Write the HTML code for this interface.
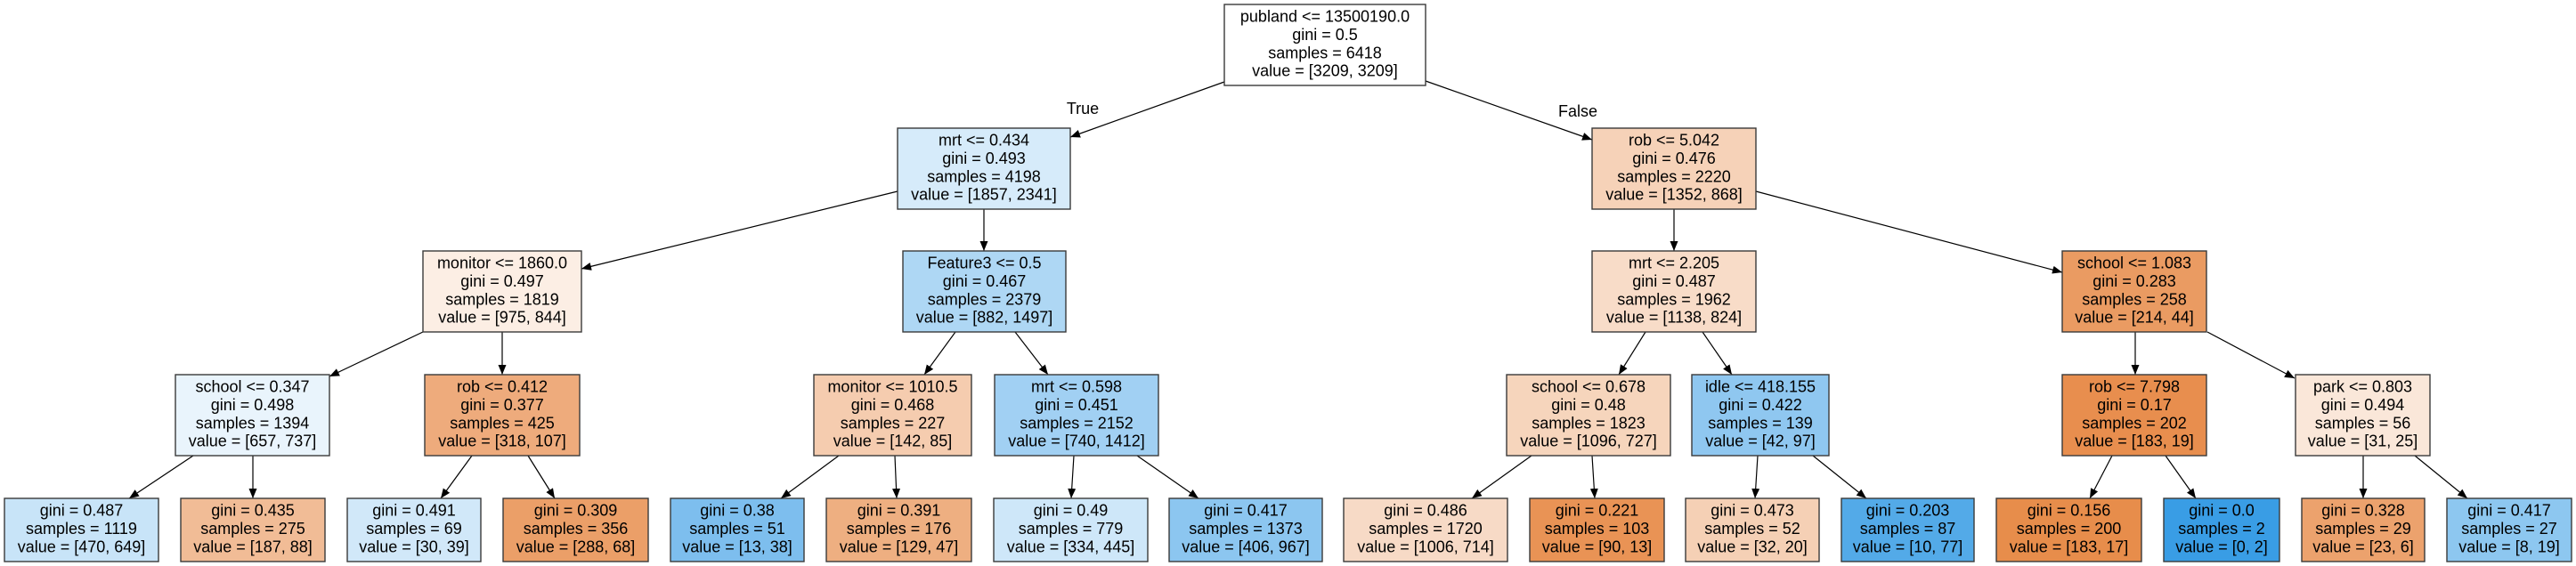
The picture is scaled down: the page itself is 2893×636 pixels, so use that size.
<!DOCTYPE html>
<html><head><meta charset="utf-8"><style>
html,body{margin:0;padding:0;background:#fff;}
svg{display:block;}
text{font-family:"Liberation Sans",Arial,sans-serif;font-size:18px;fill:#000;text-anchor:middle;dominant-baseline:central;}
rect{stroke:#3a3a3a;stroke-width:1.4;}
line{stroke:#000;stroke-width:1.2;}
</style></head><body>
<svg width="2893" height="636" viewBox="0 0 2893 636" xmlns="http://www.w3.org/2000/svg">
<defs><marker id="a" markerUnits="userSpaceOnUse" markerWidth="12" markerHeight="10" refX="11" refY="4.5" orient="auto"><path d="M0,0 L11,4.5 L0,9 z" fill="#000"/></marker></defs>
<g marker-end="url(#a)">
<line x1="1375" y1="92" x2="1202" y2="154"/>
<line x1="1601" y1="91" x2="1788" y2="157"/>
<line x1="1008" y1="215" x2="653" y2="302"/>
<line x1="1105" y1="235" x2="1105" y2="282"/>
<line x1="1880" y1="235" x2="1880" y2="282"/>
<line x1="1972" y1="215" x2="2316" y2="306"/>
<line x1="475" y1="373" x2="370" y2="423"/>
<line x1="564" y1="373" x2="564" y2="421"/>
<line x1="1073" y1="373" x2="1038" y2="421"/>
<line x1="1140" y1="373" x2="1177" y2="421"/>
<line x1="1848" y1="373" x2="1818" y2="421"/>
<line x1="1912" y1="373" x2="1945" y2="421"/>
<line x1="2398" y1="373" x2="2398" y2="421"/>
<line x1="2479" y1="373" x2="2577" y2="425"/>
<line x1="217" y1="512" x2="145" y2="560"/>
<line x1="284" y1="512" x2="284" y2="560"/>
<line x1="530" y1="512" x2="495" y2="560"/>
<line x1="593" y1="512" x2="623" y2="560"/>
<line x1="942" y1="512" x2="877" y2="560"/>
<line x1="1005" y1="512" x2="1007" y2="560"/>
<line x1="1206" y1="512" x2="1203" y2="560"/>
<line x1="1277" y1="512" x2="1346" y2="560"/>
<line x1="1720" y1="512" x2="1653" y2="560"/>
<line x1="1788" y1="512" x2="1791" y2="560"/>
<line x1="1974" y1="512" x2="1971" y2="560"/>
<line x1="2036" y1="512" x2="2096" y2="560"/>
<line x1="2372" y1="512" x2="2347" y2="560"/>
<line x1="2432" y1="512" x2="2466" y2="560"/>
<line x1="2654" y1="512" x2="2654" y2="560"/>
<line x1="2712" y1="512" x2="2771" y2="560"/>
</g>
<text x="1216" y="122">True</text>
<text x="1772" y="125">False</text>

<!-- L0 -->
<rect x="1375" y="5" width="226" height="91" fill="#ffffff"/>
<text x="1488" y="18.5">publand &lt;= 13500190.0</text><text x="1488" y="38.9">gini = 0.5</text><text x="1488" y="59.3">samples = 6418</text><text x="1488" y="79.7">value = [3209, 3209]</text>
<!-- L1 -->
<rect x="1008" y="144" width="194" height="91" fill="#d6ebfa"/>
<text x="1105" y="157.5">mrt &lt;= 0.434</text><text x="1105" y="177.9">gini = 0.493</text><text x="1105" y="198.3">samples = 4198</text><text x="1105" y="218.7">value = [1857, 2341]</text>
<rect x="1788" y="144" width="184" height="91" fill="#f6d2b8"/>
<text x="1880" y="157.5">rob &lt;= 5.042</text><text x="1880" y="177.9">gini = 0.476</text><text x="1880" y="198.3">samples = 2220</text><text x="1880" y="218.7">value = [1352, 868]</text>
<!-- L2 -->
<rect x="475" y="282" width="178" height="91" fill="#fceee4"/>
<text x="564" y="295.5">monitor &lt;= 1860.0</text><text x="564" y="315.9">gini = 0.497</text><text x="564" y="336.3">samples = 1819</text><text x="564" y="356.7">value = [975, 844]</text>
<rect x="1014" y="282" width="183" height="91" fill="#aed7f4"/>
<text x="1105.5" y="295.5">Feature3 &lt;= 0.5</text><text x="1105.5" y="315.9">gini = 0.467</text><text x="1105.5" y="336.3">samples = 2379</text><text x="1105.5" y="356.7">value = [882, 1497]</text>
<rect x="1788" y="282" width="184" height="91" fill="#f8dcc8"/>
<text x="1880" y="295.5">mrt &lt;= 2.205</text><text x="1880" y="315.9">gini = 0.487</text><text x="1880" y="336.3">samples = 1962</text><text x="1880" y="356.7">value = [1138, 824]</text>
<rect x="2316" y="282" width="162" height="91" fill="#ea9b62"/>
<text x="2397" y="295.5">school &lt;= 1.083</text><text x="2397" y="315.9">gini = 0.283</text><text x="2397" y="336.3">samples = 258</text><text x="2397" y="356.7">value = [214, 44]</text>
<!-- L3 -->
<rect x="197" y="421" width="173" height="91" fill="#e9f4fc"/>
<text x="283.5" y="434.5">school &lt;= 0.347</text><text x="283.5" y="454.9">gini = 0.498</text><text x="283.5" y="475.3">samples = 1394</text><text x="283.5" y="495.7">value = [657, 737]</text>
<rect x="477" y="421" width="174" height="91" fill="#eeab7c"/>
<text x="564" y="434.5">rob &lt;= 0.412</text><text x="564" y="454.9">gini = 0.377</text><text x="564" y="475.3">samples = 425</text><text x="564" y="495.7">value = [318, 107]</text>
<rect x="914" y="421" width="177" height="91" fill="#f5ccaf"/>
<text x="1002.5" y="434.5">monitor &lt;= 1010.5</text><text x="1002.5" y="454.9">gini = 0.468</text><text x="1002.5" y="475.3">samples = 227</text><text x="1002.5" y="495.7">value = [142, 85]</text>
<rect x="1117" y="421" width="184" height="91" fill="#a1d0f3"/>
<text x="1209" y="434.5">mrt &lt;= 0.598</text><text x="1209" y="454.9">gini = 0.451</text><text x="1209" y="475.3">samples = 2152</text><text x="1209" y="495.7">value = [740, 1412]</text>
<rect x="1692" y="421" width="184" height="91" fill="#f6d5bc"/>
<text x="1784" y="434.5">school &lt;= 0.678</text><text x="1784" y="454.9">gini = 0.48</text><text x="1784" y="475.3">samples = 1823</text><text x="1784" y="495.7">value = [1096, 727]</text>
<rect x="1900" y="421" width="154" height="91" fill="#8fc7f0"/>
<text x="1977" y="434.5">idle &lt;= 418.155</text><text x="1977" y="454.9">gini = 0.422</text><text x="1977" y="475.3">samples = 139</text><text x="1977" y="495.7">value = [42, 97]</text>
<rect x="2316" y="421" width="162" height="91" fill="#e88e4e"/>
<text x="2397" y="434.5">rob &lt;= 7.798</text><text x="2397" y="454.9">gini = 0.17</text><text x="2397" y="475.3">samples = 202</text><text x="2397" y="495.7">value = [183, 19]</text>
<rect x="2578" y="421" width="151" height="91" fill="#fae7d9"/>
<text x="2653.5" y="434.5">park &lt;= 0.803</text><text x="2653.5" y="454.9">gini = 0.494</text><text x="2653.5" y="475.3">samples = 56</text><text x="2653.5" y="495.7">value = [31, 25]</text>
<!-- L4 -->
<rect x="5" y="560" width="173" height="71" fill="#c8e4f8"/>
<text x="91.5" y="573.5">gini = 0.487</text><text x="91.5" y="593.9">samples = 1119</text><text x="91.5" y="614.3">value = [470, 649]</text>
<rect x="203" y="560" width="162" height="71" fill="#f1bc96"/>
<text x="284" y="573.5">gini = 0.435</text><text x="284" y="593.9">samples = 275</text><text x="284" y="614.3">value = [187, 88]</text>
<rect x="390" y="560" width="150" height="71" fill="#d1e8f9"/>
<text x="465" y="573.5">gini = 0.491</text><text x="465" y="593.9">samples = 69</text><text x="465" y="614.3">value = [30, 39]</text>
<rect x="565" y="560" width="163" height="71" fill="#eb9f68"/>
<text x="646.5" y="573.5">gini = 0.309</text><text x="646.5" y="593.9">samples = 356</text><text x="646.5" y="614.3">value = [288, 68]</text>
<rect x="753" y="560" width="150" height="71" fill="#7dbeee"/>
<text x="828" y="573.5">gini = 0.38</text><text x="828" y="593.9">samples = 51</text><text x="828" y="614.3">value = [13, 38]</text>
<rect x="928" y="560" width="163" height="71" fill="#eeaf81"/>
<text x="1009.5" y="573.5">gini = 0.391</text><text x="1009.5" y="593.9">samples = 176</text><text x="1009.5" y="614.3">value = [129, 47]</text>
<rect x="1116" y="560" width="173" height="71" fill="#cee7f9"/>
<text x="1202.5" y="573.5">gini = 0.49</text><text x="1202.5" y="593.9">samples = 779</text><text x="1202.5" y="614.3">value = [334, 445]</text>
<rect x="1313" y="560" width="172" height="71" fill="#8cc6f0"/>
<text x="1399" y="573.5">gini = 0.417</text><text x="1399" y="593.9">samples = 1373</text><text x="1399" y="614.3">value = [406, 967]</text>
<rect x="1509" y="560" width="184" height="71" fill="#f7dac6"/>
<text x="1601" y="573.5">gini = 0.486</text><text x="1601" y="593.9">samples = 1720</text><text x="1601" y="614.3">value = [1006, 714]</text>
<rect x="1718" y="560" width="151" height="71" fill="#e99355"/>
<text x="1793.5" y="573.5">gini = 0.221</text><text x="1793.5" y="593.9">samples = 103</text><text x="1793.5" y="614.3">value = [90, 13]</text>
<rect x="1893" y="560" width="150" height="71" fill="#f5d0b5"/>
<text x="1968" y="573.5">gini = 0.473</text><text x="1968" y="593.9">samples = 52</text><text x="1968" y="614.3">value = [32, 20]</text>
<rect x="2068" y="560" width="149" height="71" fill="#53aae8"/>
<text x="2142.5" y="573.5">gini = 0.203</text><text x="2142.5" y="593.9">samples = 87</text><text x="2142.5" y="614.3">value = [10, 77]</text>
<rect x="2242" y="560" width="163" height="71" fill="#e78d4b"/>
<text x="2323.5" y="573.5">gini = 0.156</text><text x="2323.5" y="593.9">samples = 200</text><text x="2323.5" y="614.3">value = [183, 17]</text>
<rect x="2430" y="560" width="130" height="71" fill="#399de5"/>
<text x="2495" y="573.5">gini = 0.0</text><text x="2495" y="593.9">samples = 2</text><text x="2495" y="614.3">value = [0, 2]</text>
<rect x="2585" y="560" width="138" height="71" fill="#eca26d"/>
<text x="2654" y="573.5">gini = 0.328</text><text x="2654" y="593.9">samples = 29</text><text x="2654" y="614.3">value = [23, 6]</text>
<rect x="2748" y="560" width="140" height="71" fill="#8dc7f0"/>
<text x="2818" y="573.5">gini = 0.417</text><text x="2818" y="593.9">samples = 27</text><text x="2818" y="614.3">value = [8, 19]</text>
</svg>
</body></html>
